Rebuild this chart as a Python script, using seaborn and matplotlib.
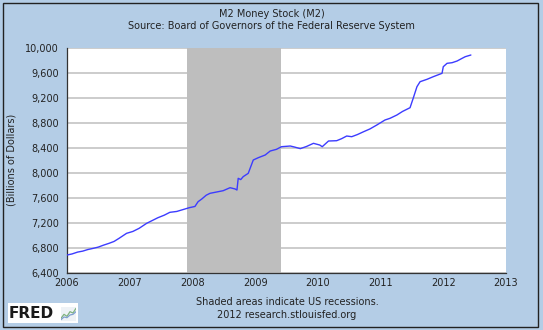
import matplotlib
matplotlib.use("Agg")
import matplotlib.pyplot as plt
import matplotlib.patches as mpatches
import matplotlib.ticker as mticker
import seaborn as sns
import pandas as pd

# ---- data (decimal year, billions of dollars) ----
year = [2006.00, 2006.08, 2006.17, 2006.25, 2006.33, 2006.42, 2006.50, 2006.58,
        2006.67, 2006.75, 2006.83, 2006.95, 2007.05, 2007.15, 2007.27, 2007.35,
        2007.45, 2007.55, 2007.64, 2007.75, 2007.85, 2007.95, 2008.04, 2008.09,
        2008.15, 2008.22, 2008.28, 2008.38, 2008.49, 2008.60, 2008.68, 2008.71,
        2008.73, 2008.77, 2008.81, 2008.89, 2008.97, 2009.05, 2009.16, 2009.24,
        2009.34, 2009.42, 2009.56, 2009.63, 2009.72, 2009.82, 2009.93, 2010.03,
        2010.07, 2010.17, 2010.30, 2010.38, 2010.46, 2010.54, 2010.63, 2010.73,
        2010.83, 2010.94, 2011.07, 2011.15, 2011.26, 2011.35, 2011.47, 2011.52,
        2011.58, 2011.63, 2011.74, 2011.84, 2011.98, 2012.00, 2012.06, 2012.14,
        2012.22, 2012.30, 2012.35, 2012.44]
m2 = [6683, 6700, 6730, 6745, 6770, 6790, 6810, 6840,
      6870, 6900, 6950, 7030, 7060, 7110, 7190, 7230,
      7280, 7320, 7366, 7380, 7410, 7440, 7460, 7536,
      7580, 7640, 7670, 7690, 7712, 7760, 7740, 7723,
      7910, 7890, 7937, 7990, 8203, 8240, 8283, 8347,
      8374, 8416, 8427, 8410, 8385, 8420, 8470, 8443,
      8416, 8507, 8512, 8545, 8587, 8576, 8610, 8656,
      8700, 8763, 8843, 8870, 8923, 8980, 9040, 9190,
      9376, 9456, 9494, 9536, 9590, 9696, 9750, 9760,
      9787, 9830, 9856, 9883]
recession = [2007.92, 2009.42]
x_ticks = [2006, 2007, 2008, 2009, 2010, 2011, 2012, 2013]
y_ticks = [6400, 6800, 7200, 7600, 8000, 8400, 8800, 9200, 9600, 10000]

title = "M2 Money Stock (M2)"
subtitle = "Source: Board of Governors of the Federal Reserve System"
ylabel = "(Billions of Dollars)"
note1 = "Shaded areas indicate US recessions."
note2 = "2012 research.stlouisfed.org"

df = pd.DataFrame({"year": year, "m2": m2})

sns.set_style("white")
plt.rcParams["font.family"] = ["DejaVu Sans"]

BG = "#B4CDE6"
fig = plt.figure(figsize=(5.43, 3.30), dpi=100, facecolor=BG)
ax = fig.add_axes([67 / 543, 1 - 272.7 / 330, (506 - 67) / 543, (272.7 - 47.7) / 330])
ax.set_facecolor("white")

ax.axvspan(recession[0], recession[1], color="#BEBEBE", lw=0, zorder=1)
for yv in y_ticks:
    ax.axhline(yv, color="#C8C8C8", lw=1.3, zorder=0.5)

sns.lineplot(data=df, x="year", y="m2", ax=ax, color="#3C3CFF", lw=1.0, zorder=3)

ax.set_xlim(2006, 2013)
ax.set_ylim(6400, 10000)
ax.set_xticks(x_ticks)
ax.set_xticklabels([str(t) for t in x_ticks])
ax.set_yticks(y_ticks)
ax.yaxis.set_major_formatter(mticker.FuncFormatter(lambda v, p: f"{int(v):,}"))
ax.tick_params(axis="x", direction="in", length=4, width=0.8, color="#333333",
               labelsize=7, pad=4, labelcolor="#222222")
ax.tick_params(axis="y", direction="out", length=4, width=0.8, color="#333333",
               labelsize=7, pad=2, labelcolor="#222222")
ax.set_xlabel("")
ax.set_ylabel(ylabel, fontsize=7, color="#222222", labelpad=6)
for s in ["top", "right"]:
    ax.spines[s].set_visible(False)
for s in ["left", "bottom"]:
    ax.spines[s].set_color("#333333")
    ax.spines[s].set_linewidth(0.9)

fig.text(0.5, 1 - 14 / 330, title, ha="center", va="center", fontsize=7, color="#222222")
fig.text(0.5, 1 - 26 / 330, subtitle, ha="center", va="center", fontsize=7, color="#222222")
fig.text(287 / 543, 1 - 302 / 330, note1, ha="center", va="center", fontsize=7, color="#222222")
fig.text(287 / 543, 1 - 315 / 330, note2, ha="center", va="center", fontsize=7, color="#222222")

# FRED logo
fig.patches.append(mpatches.Rectangle((8 / 543, 1 - 323 / 330), 70 / 543, 20 / 330,
                                      transform=fig.transFigure, facecolor="white",
                                      edgecolor="none", zorder=2))
fig.text(9 / 543, 1 - 313 / 330, "FRED", ha="left", va="center", fontsize=11,
         fontweight="heavy", color="#1A1A1A", zorder=3)
logo = fig.add_axes([61 / 543, 1 - 321 / 330, 15 / 543, 14 / 330])
logo.set_zorder(6)
logo.set_facecolor("#EEF2F6")
logo.plot([0, 1, 2, 3, 4, 5], [0.2, 0.5, 0.35, 0.7, 0.6, 0.95], color="#7FB27F", lw=0.9)
logo.plot([0, 1, 2, 3, 4, 5], [0.1, 0.3, 0.25, 0.45, 0.5, 0.7], color="#7F9FD0", lw=0.9)
logo.set_xlim(0, 5); logo.set_ylim(0, 1.05)
logo.set_xticks([]); logo.set_yticks([])
for s in logo.spines.values():
    s.set_visible(False)

# outer border
fig.patches.append(mpatches.Rectangle((3 / 543, 3 / 330), 535 / 543, 324 / 330,
                                      transform=fig.transFigure, facecolor="none",
                                      edgecolor="#222222", lw=1.0, zorder=5))

fig.savefig("out.png", dpi=100, facecolor=BG)
